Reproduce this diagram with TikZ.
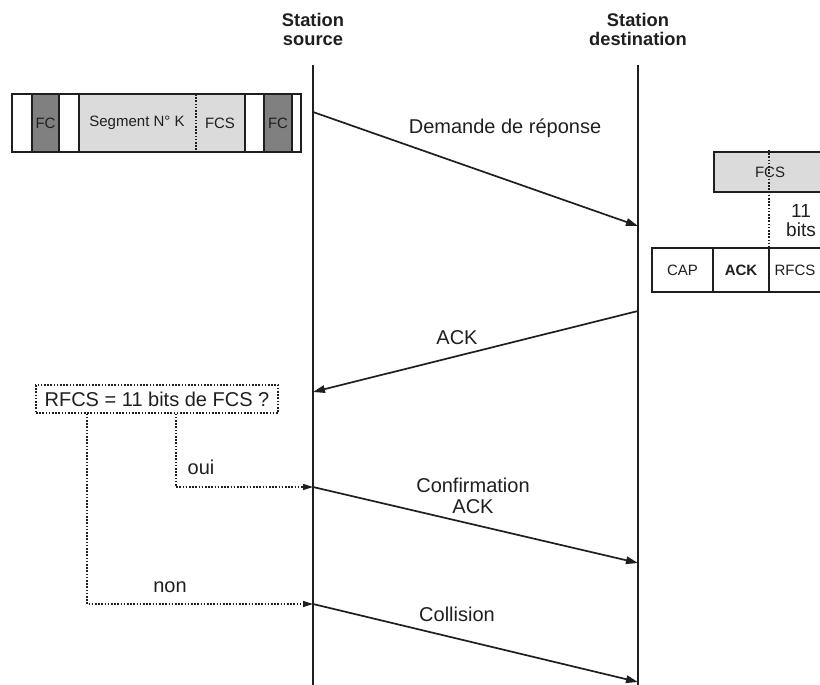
\documentclass[tikz,border=0pt]{standalone}
\usepackage{fontspec}
\setmainfont{Liberation Sans}
\usetikzlibrary{arrows.meta}
\definecolor{lightcell}{gray}{0.86}
\definecolor{darkcell}{gray}{0.5}
\definecolor{ink}{gray}{0.12}
\begin{document}
\begin{tikzpicture}[x=1pt,y=-1pt,
  every node/.style={font=\fontsize{20}{21}\selectfont, text=ink},
  lifeline/.style={draw=ink, line width=2pt},
  msg/.style={draw=ink, line width=1.7pt, -{Triangle[length=12pt,width=7.5pt]}},
  testline/.style={draw=ink, line width=1.1pt, dash pattern=on 1.6pt off 1.6pt},
  testarrow/.style={testline, -{Triangle[length=10pt,width=6pt]}},
  cell/.style={draw=ink, line width=1.1pt},
  celltext/.style={font=\fontsize{15}{17}\selectfont},
  header/.style={font=\bfseries\fontsize{18.3}{19}\selectfont, align=center},
]
\useasboundingbox (0,0) rectangle (820,685);
\clip (0,0) rectangle (820,685);

% headers and lifelines
\node[header] (hsrc) at (313,29) {Station\\source};
\node[header] (hdst) at (638,29) {Station\\destination};
\coordinate (srcTop) at (313,65);
\coordinate (srcBot) at (313,690);
\coordinate (dstTop) at (638,65);
\coordinate (dstBot) at (638,690);
\draw[lifeline] (srcTop) -- (srcBot);
\draw[lifeline] (dstTop) -- (dstBot);

% transmitted frame at the source
\fill[darkcell] (32,94) rectangle (59,152);
\fill[lightcell] (79,94) rectangle (245,152);
\fill[darkcell] (264,94) rectangle (292,152);
\draw[cell] (12,94) rectangle (301,152);
\foreach \xx in {32,59,79,245,264,292} \draw[cell] (\xx,94) -- (\xx,152);
\draw[testline] (196,94) -- (196,152);
\node[celltext] (fc1) at (45.5,123) {FC};
\node[celltext] (seg) at (137,123) {Segment N° K};
\node[celltext] (fcs1) at (220,123) {FCS};
\node[celltext] (fc2) at (278,123) {FC};

% FCS and acknowledgement frame at the destination
\fill[lightcell] (714,152) rectangle (825,192);
\draw[cell] (825,152) -- (714,152) -- (714,192) -- (825,192);
\node[celltext] (fcs2) at (770,172) {FCS};
\draw[cell] (825,248) -- (652,248) -- (652,292) -- (825,292);
\draw[cell] (713,248) -- (713,292);
\draw[cell] (769,248) -- (769,292);
\node[celltext] (cap) at (682.5,270) {CAP};
\node[celltext, font=\bfseries\fontsize{15}{17}\selectfont] (ack) at (741,270) {ACK};
\node[celltext] (rfcs) at (795,270) {RFCS};
\draw[testline] (769,150) -- (769,248);
\node[align=center, font=\fontsize{19}{19}\selectfont] (bits) at (801,221) {11\\bits};

% messages
\coordinate (m1s) at (313,112);
\coordinate (m1e) at (638,226);
\draw[msg] (m1s) -- (m1e);
\node (l1) at (505,128) {Demande de réponse};

\coordinate (m2s) at (638,311);
\coordinate (m2e) at (313,392);
\draw[msg] (m2s) -- (m2e);
\node (l2) at (457,338) {ACK};

\coordinate (m3s) at (313,487);
\coordinate (m3e) at (638,563);
\draw[msg] (m3s) -- (m3e);
\node[align=center] (l3) at (473,496) {Confirmation\\ACK};

\coordinate (m4s) at (313,604);
\coordinate (m4e) at (638,682);
\draw[msg] (m4s) -- (m4e);
\node (l4) at (457,614) {Collision};

% test on the received RFCS
\node[draw=ink, line width=1.1pt, dash pattern=on 1.6pt off 1.6pt,
      font=\fontsize{20}{21}\selectfont, minimum width=242pt, minimum height=28pt,
      inner sep=0pt] (test) at (157,399) {RFCS = 11 bits de FCS ?};
\draw[testarrow] (test.south -| 176,0) |- (m3s);
\node (oui) at (201,467) {oui};
\draw[testarrow] (test.south -| 87,0) |- (m4s);
\node (non) at (170,587) {non};
\end{tikzpicture}
\end{document}
